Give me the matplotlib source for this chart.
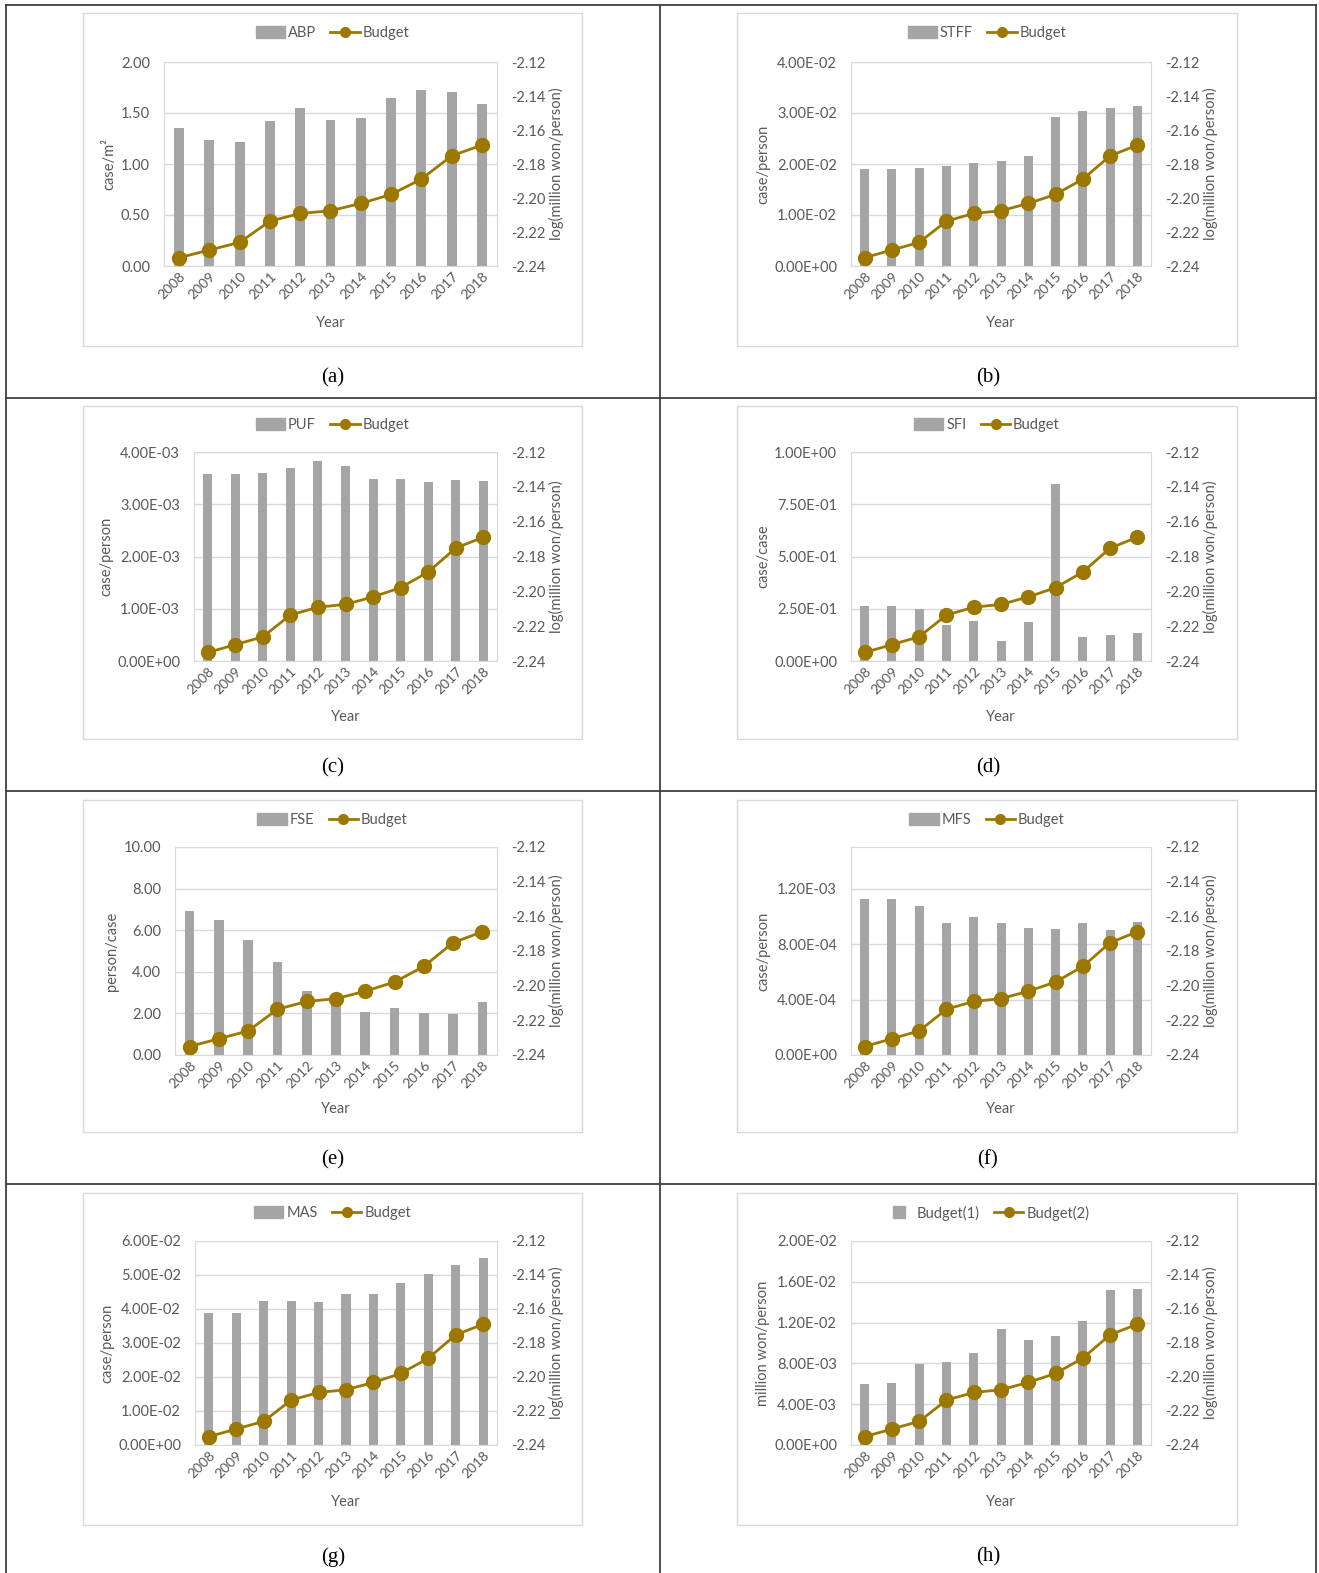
import matplotlib.pyplot as plt
from matplotlib.lines import Line2D
from matplotlib.patches import Rectangle
from matplotlib.ticker import FuncFormatter, MultipleLocator

plt.rcParams['font.family'] = ['Lato', 'DejaVu Sans']
plt.rcParams['axes.unicode_minus'] = False

W, H = 1319, 1573

# data
years = [str(y) for y in range(2008, 2019)]
budget = [-2.2351, -2.2306, -2.2261, -2.2136, -2.2091, -2.2075,
          -2.2032, -2.1979, -2.1889, -2.1752, -2.1689]
abp = [1.35, 1.24, 1.22, 1.42, 1.55, 1.43, 1.455, 1.65, 1.725, 1.71, 1.59]
stff = [0.0190, 0.0190, 0.0193, 0.0197, 0.0201, 0.0206, 0.0215, 0.0293, 0.0304, 0.0309, 0.0314]
puf = [3.57e-3, 3.57e-3, 3.60e-3, 3.69e-3, 3.83e-3, 3.74e-3, 3.48e-3, 3.48e-3, 3.43e-3, 3.46e-3, 3.45e-3]
sfi = [0.261, 0.261, 0.251, 0.172, 0.192, 0.095, 0.188, 0.847, 0.116, 0.124, 0.132]
fse = [6.92, 6.51, 5.54, 4.46, 3.08, 2.6, 2.08, 2.24, 2.03, 1.98, 2.55]
mfs = [1.125e-3, 1.125e-3, 1.075e-3, 0.955e-3, 0.993e-3, 0.955e-3, 0.913e-3, 0.908e-3, 0.955e-3, 0.901e-3, 0.96e-3]
mas = [0.0388, 0.0388, 0.0425, 0.0425, 0.0422, 0.0445, 0.0445, 0.0477, 0.0504, 0.0528, 0.0550]
budget1 = [5.95e-3, 6.05e-3, 7.9e-3, 8.16e-3, 8.98e-3, 11.38e-3, 10.26e-3, 10.66e-3, 12.14e-3, 15.2e-3, 15.3e-3]

GRAY = '#a5a5a5'
GOLD = '#9c7800'
TXT = '#595959'
LINE = '#d9d9d9'

def fx(x):
    return x / W

def fy(y):
    return 1 - y / H

sci = lambda v, p: '{:.2E}'.format(v)
fix = lambda v, p: '{:.2f}'.format(v)

# letter, series name, values, ylabel, ymax, step, formatter, column, row, plot-left px
panels = [
    ('a', 'ABP', abp, 'case/m²', 2.0, 0.5, fix, 0, 0, 164),
    ('b', 'STFF', stff, 'case/person', 0.04, 0.01, sci, 1, 0, 851),
    ('c', 'PUF', puf, 'case/person', 4e-3, 1e-3, sci, 0, 1, 194),
    ('d', 'SFI', sfi, 'case/case', 1.0, 0.25, sci, 1, 1, 851),
    ('e', 'FSE', fse, 'person/case', 10.0, 2.0, fix, 0, 2, 175),
    ('f', 'MFS', mfs, 'case/person', 1.5e-3, 4e-4, sci, 1, 2, 851),
    ('g', 'MAS', mas, 'case/person', 0.06, 0.01, sci, 0, 3, 195),
    ('h', 'Budget(1)', budget1, 'million won/person', 0.02, 0.004, sci, 1, 3, 851),
]

frame_x = [(83, 582), (737, 1237)]
plot_right = [497, 1151]
frame_y = [(13, 346), (406, 739), (800, 1132), (1193, 1525)]
plot_y = [(62, 266), (452, 661), (847, 1055), (1241, 1445)]
legend_y = [33, 425, 820, 1213]
year_y = [323, 717, 1109, 1502]
label_y = [378, 768, 1160, 1557]
cell_cx = [333, 988]

fig = plt.figure(figsize=(W / 100, H / 100), dpi=100)

# table grid
for x in [6, 660, 1316]:
    fig.add_artist(Line2D([fx(x), fx(x)], [fy(5), fy(H)], color='#404040', lw=1.3,
                          transform=fig.transFigure))
for y in [5, 398, 791, 1184]:
    fig.add_artist(Line2D([fx(6), fx(1316)], [fy(y), fy(y)], color='#404040', lw=1.3,
                          transform=fig.transFigure))

for letter, name, vals, ylab, ymax, step, fmt, col, row, x0 in panels:
    x1 = plot_right[col]
    y0, y1 = plot_y[row]
    fxa, fxb = frame_x[col]
    fya, fyb = frame_y[row]
    fig.add_artist(Rectangle((fx(fxa), fy(fyb)), (fxb - fxa) / W, (fyb - fya) / H,
                             transform=fig.transFigure, fill=False, ec=LINE, lw=1))

    ax = fig.add_axes([fx(x0), fy(y1), (x1 - x0) / W, (y1 - y0) / H])
    ax.bar(years, vals, width=0.33, color=GRAY, zorder=2)
    ax.set_ylim(0, ymax)
    ax.yaxis.set_major_locator(MultipleLocator(step))
    ax.yaxis.set_major_formatter(FuncFormatter(fmt))
    ax.grid(axis='y', color=LINE, lw=1)
    ax.set_axisbelow(True)
    ax.set_xlim(-0.5, 10.5)
    for s in ax.spines.values():
        s.set_color(LINE)
    ax.tick_params(axis='y', length=0, pad=10, labelsize=10.5, labelcolor=TXT)
    ax.tick_params(axis='x', length=0, pad=3, labelsize=10, labelcolor=TXT)
    for t in ax.get_xticklabels():
        t.set_rotation(45)
        t.set_ha('right')
        t.set_rotation_mode('anchor')
    ax.set_ylabel(ylab, color=TXT, fontsize=10.5, labelpad=3)

    ax2 = ax.twinx()
    ax2.plot(range(len(years)), budget, color=GOLD, lw=2, marker='o', ms=10, clip_on=False, zorder=3)
    ax2.set_ylim(-2.24, -2.12)
    ax2.yaxis.set_major_locator(MultipleLocator(0.02))
    ax2.yaxis.set_major_formatter(FuncFormatter(fix))
    ax2.tick_params(axis='y', length=0, pad=10, labelsize=10.5, labelcolor=TXT)
    for s in ax2.spines.values():
        s.set_visible(False)
    ax2.set_ylabel('log(million won/person)', color=TXT, fontsize=10.5, labelpad=3)

    fig.text(fx((x0 + x1) / 2), fy(year_y[row]), 'Year', ha='center', va='center',
             color=TXT, fontsize=10.5)

    if letter == 'h':
        bar_h = Line2D([], [], color=GRAY, marker='s', ls='none', ms=8)
        line_lab = 'Budget(2)'
    else:
        bar_h = Rectangle((0, 0), 1, 1, color=GRAY)
        line_lab = 'Budget'
    line_h = Line2D([], [], color=GOLD, lw=2, marker='o', ms=7)
    leg = fig.legend([bar_h, line_h], [name, line_lab], loc='center', ncol=2, frameon=False,
                     bbox_to_anchor=(fx((fxa + fxb) / 2), fy(legend_y[row])),
                     fontsize=10.5, handlelength=2.0, handleheight=0.8, handletextpad=0.2,
                     columnspacing=1.0)
    for t in leg.get_texts():
        t.set_color(TXT)

    fig.text(fx(cell_cx[col]), fy(label_y[row]), '(' + letter + ')', ha='center', va='center',
             family='Liberation Serif', fontsize=15)

fig.savefig('out.png', dpi=100)
